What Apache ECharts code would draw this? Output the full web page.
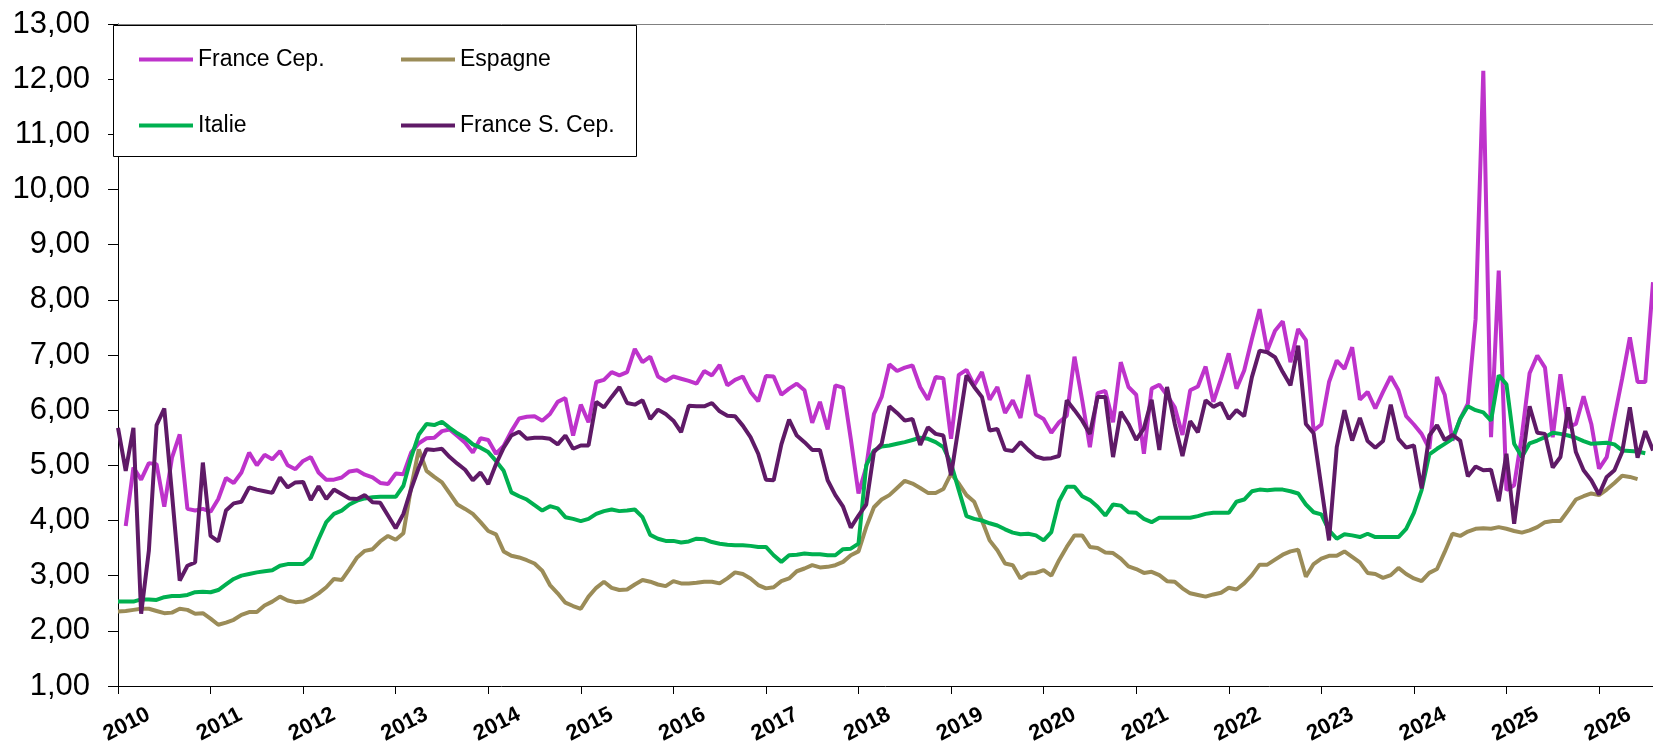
<!DOCTYPE html>
<html>
<head>
<meta charset="utf-8">
<script src="https://cdn.jsdelivr.net/npm/echarts@6/dist/echarts.min.js"></script>
<style>
  html, body { margin: 0; padding: 0; background: #fff; }
  #chart { width: 1653px; height: 741px; }
</style>
</head>
<body>
<div id="chart"></div>
<script>
'use strict';

// monthly values, Jan 2010 .. Aug 2026 (one row per year)
var years = ['2010', '2011', '2012', '2013', '2014', '2015', '2016', '2017', '2018',
  '2019', '2020', '2021', '2022', '2023', '2024', '2025', '2026'];

var franceCep = [
  null, 3.90, 4.96, 4.74, 5.04, 5.02, 4.25, 5.14, 5.56, 4.21, 4.18, 4.21,
  4.16, 4.39, 4.77, 4.68, 4.87, 5.23, 5.00, 5.19, 5.11, 5.26, 5.00, 4.93,
  5.08, 5.15, 4.87, 4.74, 4.74, 4.78, 4.89, 4.91, 4.83, 4.78, 4.68, 4.66,
  4.85, 4.84, 5.23, 5.40, 5.49, 5.50, 5.62, 5.65, 5.53, 5.41, 5.23, 5.49,
  5.46, 5.21, 5.35, 5.62, 5.85, 5.88, 5.89, 5.81, 5.93, 6.15, 6.22, 5.54,
  6.10, 5.78, 6.51, 6.55, 6.69, 6.63, 6.69, 7.11, 6.87, 6.97, 6.61, 6.53,
  6.61, 6.57, 6.53, 6.48, 6.71, 6.63, 6.82, 6.45, 6.55, 6.61, 6.33, 6.16,
  6.62, 6.61, 6.28, 6.39, 6.48, 6.36, 5.77, 6.15, 5.65, 6.45, 6.41, 5.48,
  4.49, 4.97, 5.93, 6.24, 6.83, 6.71, 6.77, 6.81, 6.42, 6.19, 6.60, 6.58,
  5.48, 6.64, 6.73, 6.45, 6.69, 6.19, 6.42, 5.95, 6.18, 5.86, 6.64, 5.92,
  5.84, 5.59, 5.78, 5.90, 6.97, 6.18, 5.33, 6.31, 6.35, 5.78, 6.87, 6.42,
  6.28, 5.21, 6.39, 6.46, 6.27, 6.05, 5.55, 6.36, 6.43, 6.79, 6.15, 6.57,
  7.03, 6.39, 6.72, 7.29, 7.83, 7.08, 7.44, 7.61, 6.87, 7.47, 7.27, 5.63,
  5.74, 6.51, 6.90, 6.75, 7.14, 6.19, 6.33, 6.03, 6.33, 6.61, 6.36, 5.89,
  5.74, 5.57, 5.30, 6.60, 6.28, 5.45, 5.84, 6.12, 7.65, 12.15, 5.51, 8.53,
  4.55, 4.64, 5.54, 6.67, 6.99, 6.77, 5.51, 6.65, 5.69, 5.75, 6.25, 5.75,
  4.94, 5.15, 5.87, 6.57, 7.32, 6.51, 6.51, 8.32
];

var espagne = [
  2.35, 2.36, 2.38, 2.40, 2.40, 2.36, 2.32, 2.33, 2.40, 2.38, 2.31, 2.32,
  2.22, 2.11, 2.15, 2.20, 2.29, 2.34, 2.34, 2.46, 2.53, 2.62, 2.55, 2.52,
  2.53, 2.59, 2.68, 2.79, 2.94, 2.92, 3.12, 3.33, 3.45, 3.48, 3.62, 3.72,
  3.65, 3.77, 4.60, 5.29, 4.90, 4.79, 4.69, 4.49, 4.29, 4.21, 4.12, 3.97,
  3.81, 3.75, 3.44, 3.36, 3.33, 3.28, 3.22, 3.09, 2.83, 2.68, 2.51, 2.45,
  2.40, 2.62, 2.78, 2.89, 2.78, 2.74, 2.75, 2.84, 2.92, 2.89, 2.84, 2.81,
  2.90, 2.86, 2.86, 2.87, 2.89, 2.89, 2.86, 2.95, 3.06, 3.03, 2.95, 2.83,
  2.77, 2.79, 2.90, 2.95, 3.08, 3.13, 3.19, 3.15, 3.16, 3.19, 3.25, 3.37,
  3.44, 3.88, 4.24, 4.38, 4.46, 4.59, 4.72, 4.67, 4.59, 4.50, 4.50, 4.57,
  4.85, 4.67, 4.46, 4.34, 4.00, 3.64, 3.46, 3.22, 3.19, 2.95, 3.04, 3.05,
  3.10, 3.00, 3.28, 3.52, 3.73, 3.73, 3.52, 3.50, 3.42, 3.41, 3.31, 3.17,
  3.12, 3.05, 3.07, 3.01, 2.90, 2.89, 2.77, 2.68, 2.65, 2.62, 2.66, 2.69,
  2.78, 2.75, 2.86, 3.01, 3.20, 3.20, 3.29, 3.38, 3.44, 3.47, 2.98, 3.21,
  3.31, 3.36, 3.36, 3.44, 3.34, 3.24, 3.05, 3.03, 2.96, 3.01, 3.14, 3.03,
  2.95, 2.90, 3.05, 3.12, 3.43, 3.76, 3.72, 3.80, 3.85, 3.86, 3.85, 3.88,
  3.85, 3.81, 3.78, 3.82, 3.88, 3.97, 3.99, 3.99, 4.18, 4.38, 4.44, 4.49,
  4.46, 4.56, 4.68, 4.81, 4.79, 4.75, null, null
];

var italie = [
  2.53, 2.53, 2.53, 2.57, 2.57, 2.56, 2.61, 2.63, 2.63, 2.65, 2.70, 2.71,
  2.70, 2.74, 2.84, 2.94, 3.00, 3.03, 3.06, 3.08, 3.10, 3.18, 3.21, 3.21,
  3.21, 3.33, 3.66, 3.97, 4.12, 4.18, 4.29, 4.36, 4.40, 4.42, 4.43, 4.43,
  4.43, 4.63, 5.14, 5.56, 5.75, 5.73, 5.79, 5.68, 5.58, 5.50, 5.38, 5.32,
  5.24, 5.08, 4.90, 4.51, 4.44, 4.38, 4.28, 4.18, 4.26, 4.22, 4.06, 4.03,
  3.99, 4.03, 4.12, 4.17, 4.20, 4.17, 4.18, 4.20, 4.06, 3.74, 3.67, 3.63,
  3.63, 3.60, 3.62, 3.67, 3.66, 3.61, 3.58, 3.56, 3.55, 3.55, 3.54, 3.52,
  3.52, 3.37, 3.25, 3.37, 3.38, 3.40, 3.39, 3.39, 3.37, 3.37, 3.48, 3.49,
  3.58, 5.00, 5.27, 5.34, 5.36, 5.39, 5.42, 5.46, 5.50, 5.48, 5.42, 5.33,
  5.03, 4.55, 4.08, 4.03, 4.00, 3.95, 3.91, 3.84, 3.78, 3.75, 3.76, 3.73,
  3.64, 3.79, 4.35, 4.61, 4.61, 4.44, 4.37, 4.25, 4.09, 4.29, 4.27, 4.15,
  4.14, 4.03, 3.97, 4.05, 4.05, 4.05, 4.05, 4.05, 4.08, 4.12, 4.14, 4.14,
  4.14, 4.34, 4.38, 4.53, 4.56, 4.55, 4.56, 4.56, 4.53, 4.49, 4.29, 4.15,
  4.11, 3.82, 3.67, 3.75, 3.73, 3.70, 3.76, 3.70, 3.70, 3.70, 3.70, 3.85,
  4.14, 4.55, 5.20, 5.30, 5.39, 5.48, 5.84, 6.07, 6.00, 5.96, 5.81, 6.63,
  6.47, 5.39, 5.15, 5.40, 5.45, 5.51, 5.59, 5.57, 5.54, 5.50, 5.44, 5.39,
  5.40, 5.41, 5.38, 5.27, 5.26, 5.25, 5.22, null
];

var franceSCep = [
  5.68, 4.90, 5.68, 2.31, 3.45, 5.73, 6.03, 4.48, 2.91, 3.18, 3.24, 5.05,
  3.72, 3.62, 4.18, 4.31, 4.34, 4.60, 4.56, 4.53, 4.50, 4.78, 4.60, 4.69,
  4.70, 4.37, 4.62, 4.39, 4.56, 4.48, 4.40, 4.39, 4.46, 4.33, 4.32, 4.09,
  3.86, 4.12, 4.57, 4.96, 5.29, 5.28, 5.30, 5.15, 5.03, 4.92, 4.73, 4.87,
  4.66, 5.02, 5.32, 5.54, 5.61, 5.48, 5.50, 5.50, 5.48, 5.38, 5.54, 5.30,
  5.36, 5.36, 6.15, 6.05, 6.24, 6.42, 6.13, 6.10, 6.18, 5.84, 6.01, 5.93,
  5.81, 5.60, 6.08, 6.07, 6.07, 6.13, 5.98, 5.90, 5.89, 5.72, 5.51, 5.21,
  4.74, 4.73, 5.38, 5.83, 5.54, 5.42, 5.28, 5.28, 4.73, 4.46, 4.25, 3.87,
  4.09, 4.29, 5.24, 5.39, 6.07, 5.95, 5.81, 5.84, 5.37, 5.69, 5.57, 5.54,
  4.82, 5.72, 6.63, 6.42, 6.24, 5.63, 5.66, 5.28, 5.26, 5.42, 5.28, 5.16,
  5.12, 5.13, 5.17, 6.18, 6.00, 5.81, 5.57, 6.24, 6.24, 5.15, 5.97, 5.75,
  5.46, 5.67, 6.19, 5.28, 6.42, 5.75, 5.17, 5.80, 5.60, 6.18, 6.06, 6.13,
  5.84, 6.00, 5.89, 6.60, 7.08, 7.05, 6.96, 6.69, 6.45, 7.17, 5.75, 5.58,
  4.61, 3.64, 5.33, 6.00, 5.45, 5.86, 5.44, 5.32, 5.44, 6.10, 5.48, 5.32,
  5.36, 4.58, 5.54, 5.73, 5.46, 5.55, 5.45, 4.80, 4.98, 4.91, 4.92, 4.35,
  5.21, 3.94, 5.03, 6.07, 5.59, 5.57, 4.96, 5.15, 6.05, 5.24, 4.91, 4.73,
  4.47, 4.79, 4.91, 5.24, 6.05, 5.14, 5.62, 5.27
];

var months = [];
for (var i = 0; i < franceCep.length; i++) {
  var y = years[Math.floor(i / 12)];
  var mo = (i % 12) + 1;
  months.push(y + '-' + (mo < 10 ? '0' + mo : mo));
}

var FONT = '"Liberation Sans", Arial, sans-serif';
var isJan = function (index) { return index % 12 === 0; };

function lineSeries(name, data, color) {
  return {
    name: name,
    type: 'line',
    data: data,
    symbol: 'none',
    showSymbol: false,
    connectNulls: false,
    lineStyle: { color: color, width: 4 },
    itemStyle: { color: color }
  };
}

var eChart = echarts.init(document.getElementById('chart'));
var option = {
  animation: false,
  backgroundColor: '#fff',
  // fixed plot area, labels are allowed to reach the page edge
  grid: { left: 118, right: 0, top: 24, bottom: 55, outerBoundsMode: 'none' },
  graphic: [{
    type: 'rect',
    left: 113, top: 25,
    shape: { width: 523, height: 131 },
    style: { fill: '#fff', stroke: '#000', lineWidth: 1 },
    z: 1
  }],
  legend: [{
    orient: 'vertical', left: 134, top: 43,
    itemWidth: 54, itemHeight: 4, itemGap: 43, icon: 'rect',
    data: ['France Cep.', 'Italie'],
    textStyle: { fontSize: 23, color: '#000', fontFamily: FONT },
    z: 5
  }, {
    orient: 'vertical', left: 396, top: 43,
    itemWidth: 54, itemHeight: 4, itemGap: 43, icon: 'rect',
    data: ['Espagne', 'France S. Cep.'],
    textStyle: { fontSize: 23, color: '#000', fontFamily: FONT },
    z: 5
  }],
  xAxis: [{
    type: 'category',
    data: months,
    boundaryGap: false,
    axisLine: { lineStyle: { color: '#000', width: 1 } },
    axisTick: { interval: isJan, length: 8, lineStyle: { color: '#000' } },
    axisLabel: {
      interval: isJan,
      formatter: function (v) { return v.slice(0, 4); },
      rotate: 27,
      align: 'center',
      verticalAlign: 'middle',
      padding: [0, 0, 0, 20],
      margin: 43,
      fontSize: 22,
      fontWeight: 'bold',
      color: '#000',
      fontFamily: FONT
    },
    splitLine: { show: false }
  }, {
    type: 'category',
    data: months,
    position: 'top',
    boundaryGap: false,
    axisLine: { lineStyle: { color: '#808080', width: 1 } },
    axisTick: { show: false },
    axisLabel: { show: false },
    splitLine: { show: false }
  }],
  yAxis: {
    type: 'value',
    min: 1, max: 13, interval: 1,
    axisLine: { show: true, lineStyle: { color: '#000', width: 1 } },
    axisTick: { show: true, length: 10, lineStyle: { color: '#000' } },
    axisLabel: {
      margin: 28,
      fontSize: 31,
      color: '#000',
      fontFamily: FONT,
      formatter: function (v) { return v.toFixed(2).replace('.', ','); }
    },
    splitLine: { show: false }
  },
  series: [
    lineSeries('France Cep.', franceCep, '#be33cb'),
    lineSeries('Espagne', espagne, '#9b8c58'),
    lineSeries('Italie', italie, '#00b050'),
    lineSeries('France S. Cep.', franceSCep, '#5f1a67')
  ]
};
eChart.setOption(option);
</script>
</body>
</html>
